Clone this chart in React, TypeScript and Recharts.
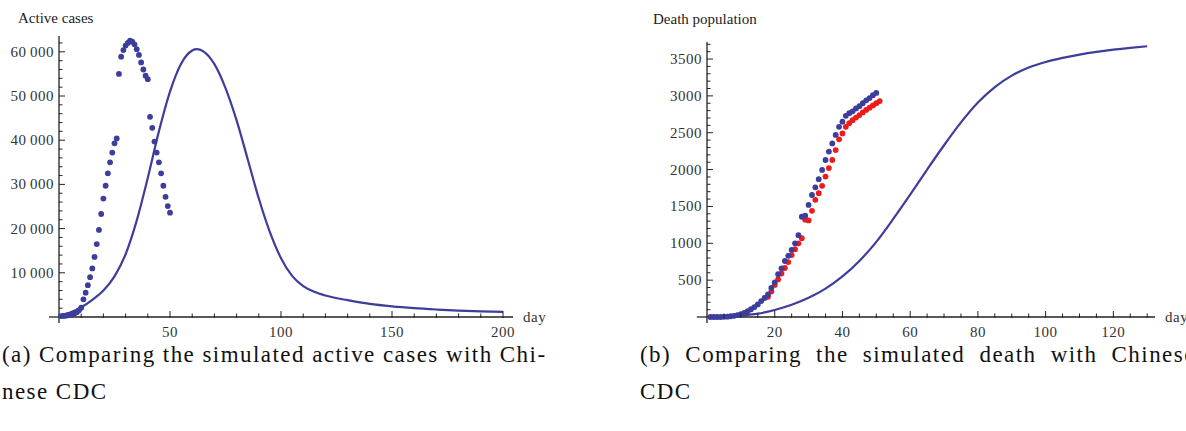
import React from 'react';
import { ComposedChart, Line, Scatter, XAxis, YAxis, ReferenceLine, Label } from 'recharts';

const BLUE = '#3d3d9c';
const RED = '#ee1b1b';
const AXIS = '#222';
const SERIF = "'Liberation Serif', 'DejaVu Serif', serif";

// (a) active cases, Chinese CDC data points
const activeCdcDays = [
  1, 2, 3, 4, 5, 6, 7, 8, 9, 10, 11, 12, 13, 14, 15, 16, 17, 18, 19, 20, 21, 22, 23, 24, 25,
  26, 27, 28, 29, 30, 31, 32, 33, 34, 35, 36, 37, 38, 39, 40, 41, 42, 43, 44, 45, 46, 47, 48, 49, 50,
];
const activeCdcValues = [
  200, 250, 300, 400, 500, 600, 800, 1100, 1500, 2100,
  4000, 5500, 7200, 9000, 11000, 13600, 16500, 19700, 23300, 26800, 29700, 32500, 35000, 37200, 39300, 40400,
  55000, 58900, 60400, 61400, 62000, 62500, 62300, 61700, 60600, 59300, 57600, 56000, 54600, 53800,
  45300, 42800, 39700, 37200, 35000, 32500, 29700, 27200, 25100, 23600,
];
// (a) simulated active cases
const activeSimDays = [
  0, 5, 10, 15, 20, 25, 30, 35, 40, 45, 50, 55, 60, 62, 65, 70, 75, 80, 85, 90, 95, 100,
  105, 110, 115, 120, 130, 140, 150, 160, 170, 180, 190, 200,
];
const activeSimValues = [
  300, 1000, 2200, 3900, 6000, 9200, 14200, 21800, 31500, 42000, 51000, 57300, 60300, 60600, 60100, 57200,
  51800, 44500, 35700, 26800, 19200, 13300, 9300, 7000, 5700, 4850, 3800, 2950, 2400, 2000, 1700, 1450, 1280, 1150,
];
const activeYLabels = [10000, 20000, 30000, 40000, 50000, 60000];
const activeXLabels = [50, 100, 150, 200];

// (b) deaths, first data set (blue)
const deathBlueDays = [
  1, 2, 3, 4, 5, 6, 7, 8, 9, 10, 11, 12, 13, 14, 15, 16, 17, 18, 19, 20, 21, 22, 23, 24, 25,
  26, 27, 28, 29, 30, 31, 32, 33, 34, 35, 36, 37, 38, 39, 40, 41, 42, 43, 44, 45, 46, 47, 48, 49, 50,
];
const deathBlueValues = [
  0, 0, 0, 0, 2, 5, 10, 16, 25, 38, 55, 78, 105, 135, 170, 215, 258, 305, 395, 470,
  580, 660, 760, 830, 910, 1000, 1110, 1360, 1375, 1520, 1655, 1760, 1870, 1995, 2130,
  2245, 2355, 2470, 2580, 2650, 2730, 2765, 2790, 2830, 2860, 2900, 2940, 2970, 3010, 3040,
];
// (b) deaths, second data set (red)
const deathRedDays = [
  18, 19, 20, 21, 22, 23, 24, 25, 26, 27, 28, 29, 30, 31, 32, 33, 34,
  35, 36, 37, 38, 39, 40, 41, 42, 43, 44, 45, 46, 47, 48, 49, 50, 51,
];
const deathRedValues = [
  275, 345, 435, 510, 590, 665, 745, 840, 920, 1000, 1070, 1320, 1310, 1440, 1590, 1680, 1780,
  1905, 2020, 2130, 2265, 2410, 2490, 2580, 2630, 2670, 2705, 2740, 2775, 2810, 2840, 2870, 2900, 2930,
];
// (b) simulated deaths
const deathSimDays = [
  0, 5, 10, 15, 20, 25, 30, 35, 40, 45, 50, 55, 60, 65, 70, 75, 80, 85, 90, 95, 100, 105, 110, 115, 120, 125, 130,
];
const deathSimValues = [
  0, 5, 20, 45, 95, 165, 260, 385, 550, 760, 1020, 1330, 1660, 2000, 2330, 2640, 2910, 3120, 3275, 3385,
  3460, 3515, 3560, 3597, 3627, 3652, 3673,
];
const deathYLabels = [500, 1000, 1500, 2000, 2500, 3000, 3500];
const deathXLabels = [20, 40, 60, 80, 100, 120];

const toPoints = (xs: number[], ys: number[]) => xs.map((d, i) => ({ day: d, value: ys[i] }));
const minorTicks = (step: number, max: number) =>
  Array.from({ length: Math.floor(max / step) }, (_, i) => (i + 1) * step);

const groupDigits = (v: number) =>
  v >= 10000 ? `${Math.floor(v / 1000)}\u2009${String(v % 1000).padStart(3, '0')}` : String(v);

const tickText = { fontFamily: SERIF, fontSize: 15, letterSpacing: 0.5, fill: '#333' };

const makeYTick = (majors: number[]) => (props: any) => {
  const { x, y, payload } = props;
  const major = majors.includes(payload.value);
  const ax = x + 5;
  return (
    <g>
      <line x1={ax} x2={ax + (major ? 6 : 3.5)} y1={y} y2={y} stroke={AXIS} strokeWidth={1} />
      {major && (
        <text x={x} y={y + 5} textAnchor="end" {...tickText}>
          {groupDigits(payload.value)}
        </text>
      )}
    </g>
  );
};

const makeXTick = (majors: number[]) => (props: any) => {
  const { x, y, payload } = props;
  const major = majors.includes(payload.value);
  return (
    <g>
      <line x1={x} x2={x} y1={y + 1} y2={y - (major ? 6 : 3.5)} stroke={AXIS} strokeWidth={1} />
      {major && (
        <text x={x} y={y + 20} textAnchor="middle" {...tickText}>
          {payload.value}
        </text>
      )}
    </g>
  );
};

const dayLabel = (p: any) => (
  <text x={p.viewBox.x + p.viewBox.width + 10} y={p.viewBox.y + 5} {...tickText}>
    day
  </text>
);

const titleLabel = (title: string, dx: number, dy: number) => (p: any) => (
  <text x={p.viewBox.x + dx} y={p.viewBox.y + dy} fontFamily={SERIF} fontSize={15} fill="#222">
    {title}
  </text>
);

const dot = (color: string) => (p: any) => <circle cx={p.cx} cy={p.cy} r={2.9} fill={color} />;

const axisLine = { stroke: AXIS, strokeWidth: 1.3 };

const captionStyle: React.CSSProperties = {
  position: 'absolute',
  top: 336,
  fontFamily: SERIF,
  fontSize: 23,
  lineHeight: '37px',
  letterSpacing: 1.45,
  color: '#111',
  whiteSpace: 'nowrap',
};

export default function App() {
  const activeCdc = toPoints(activeCdcDays, activeCdcValues);
  const activeSim = toPoints(activeSimDays, activeSimValues);
  const deathBlue = toPoints(deathBlueDays, deathBlueValues);
  const deathRed = toPoints(deathRedDays, deathRedValues);
  const deathSim = toPoints(deathSimDays, deathSimValues);

  return (
    <div
      style={{ position: 'absolute', left: 0, top: 0, width: 1186, height: 431, overflow: 'hidden', background: '#fff' }}
    >
      <div style={{ position: 'absolute', left: 0, top: 0 }}>
        <ComposedChart width={570} height={345} margin={{ top: 36, right: 57, bottom: 3, left: 0 }}>
          <XAxis
            type="number"
            dataKey="day"
            domain={[0, 204.5]}
            ticks={minorTicks(10, 200)}
            interval={0}
            tick={makeXTick(activeXLabels)}
            tickSize={0}
            tickMargin={0}
            tickLine={false}
            axisLine={axisLine}
            height={25}
          >
            <Label content={dayLabel} />
          </XAxis>
          <YAxis
            type="number"
            domain={[0, 63575]}
            ticks={minorTicks(2000, 62000)}
            interval={0}
            tick={makeYTick(activeYLabels)}
            tickSize={0}
            tickMargin={5}
            tickLine={false}
            axisLine={axisLine}
            width={59}
          >
            <Label content={titleLabel('Active cases', 18, -13)} />
          </YAxis>
          <ReferenceLine segment={[{ x: -4.5, y: 0 }, { x: 0, y: 0 }]} stroke={AXIS} strokeWidth={1.3} ifOverflow="visible" />
          <ReferenceLine segment={[{ x: 0, y: 0 }, { x: 0, y: -1350 }]} stroke={AXIS} strokeWidth={1.3} ifOverflow="visible" />
          <Line
            data={activeSim}
            dataKey="value"
            type="monotone"
            stroke={BLUE}
            strokeWidth={2.2}
            dot={false}
            isAnimationActive={false}
          />
          <Scatter data={activeCdc} dataKey="value" fill={BLUE} shape={dot(BLUE)} isAnimationActive={false} />
        </ComposedChart>
      </div>

      <div style={{ position: 'absolute', left: 600, top: 0 }}>
        <ComposedChart width={586} height={345} margin={{ top: 42, right: 31, bottom: 3, left: 0 }}>
          <XAxis
            type="number"
            dataKey="day"
            domain={[0, 132.3]}
            ticks={minorTicks(5, 130)}
            interval={0}
            tick={makeXTick(deathXLabels)}
            tickSize={0}
            tickMargin={0}
            tickLine={false}
            axisLine={axisLine}
            height={25}
          >
            <Label content={dayLabel} />
          </XAxis>
          <YAxis
            type="number"
            domain={[0, 3731]}
            ticks={minorTicks(100, 3700)}
            interval={0}
            tick={makeYTick(deathYLabels)}
            tickSize={0}
            tickMargin={5}
            tickLine={false}
            axisLine={axisLine}
            width={107}
          >
            <Label content={titleLabel('Death population', 53, -18)} />
          </YAxis>
          <ReferenceLine segment={[{ x: -3, y: 0 }, { x: 0, y: 0 }]} stroke={AXIS} strokeWidth={1.3} ifOverflow="visible" />
          <ReferenceLine segment={[{ x: 0, y: 0 }, { x: 0, y: -80 }]} stroke={AXIS} strokeWidth={1.3} ifOverflow="visible" />
          <Line
            data={deathSim}
            dataKey="value"
            type="monotone"
            stroke={BLUE}
            strokeWidth={2.2}
            dot={false}
            isAnimationActive={false}
          />
          <Scatter data={deathRed} dataKey="value" fill={RED} shape={dot(RED)} isAnimationActive={false} />
          <Scatter data={deathBlue} dataKey="value" fill={BLUE} shape={dot(BLUE)} isAnimationActive={false} />
        </ComposedChart>
      </div>

      <div style={{ ...captionStyle, left: 2 }}>
        (a) Comparing the simulated active cases with Chi-
        <br />
        nese CDC
      </div>
      <div style={{ ...captionStyle, left: 640, wordSpacing: 7 }}>
        (b) Comparing the simulated death with Chinese
        <br />
        <span style={{ wordSpacing: 0 }}>CDC</span>
      </div>
    </div>
  );
}
